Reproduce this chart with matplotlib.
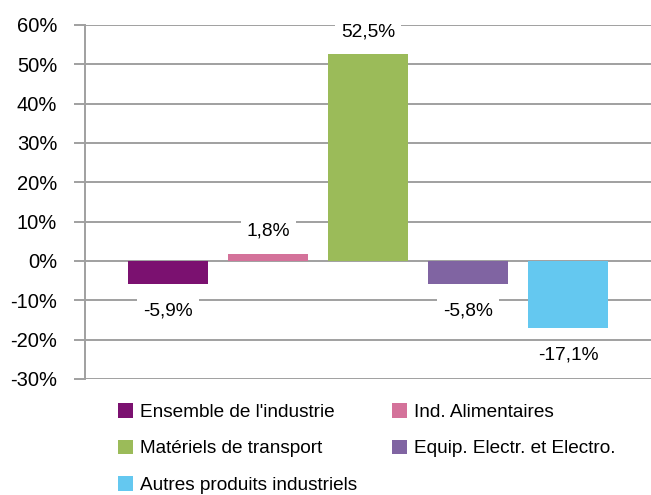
import matplotlib
matplotlib.use("Agg")
import matplotlib.pyplot as plt
from matplotlib.ticker import FuncFormatter

plt.rcParams['font.family'] = ['Liberation Sans', 'DejaVu Sans']

# donnees
categories = ["Ensemble de l'industrie", "Ind. Alimentaires", "Matériels de transport",
              "Equip. Electr. et Electro.", "Autres produits industriels"]
values = [-5.9, 1.8, 52.5, -5.8, -17.1]
labels = ["-5,9%", "1,8%", "52,5%", "-5,8%", "-17,1%"]
colors = ["#7B1170", "#D4729A", "#9BBB59", "#8064A2", "#64C8F0"]
yticks = [-30, -20, -10, 0, 10, 20, 30, 40, 50, 60]

fig = plt.figure(figsize=(6.51, 4.95), dpi=100)
ax = fig.add_axes([85/651, 116/495, 1 - 85/651, (379 - 25)/495])

grid_color = "#A0A0A0"
for t in yticks:
    ax.axhline(t, color=grid_color, lw=1.4, zorder=1)

bars = []
for i, v in enumerate(values):
    b = ax.bar(i, v, width=0.8, color=colors[i], zorder=2, label=categories[i])
    bars.append(b)
    if v >= 0:
        off = 16.5
    else:
        off = -19.5
    ax.annotate(labels[i], xy=(i, v), xytext=(0, off), textcoords="offset points",
                ha="center", va="center", fontsize=13.8, zorder=4,
                bbox=dict(boxstyle="square,pad=0.3", fc="white", ec="none"))

ax.set_xlim(-0.83, 4.83)
ax.set_ylim(-30, 60)
ax.set_yticks(yticks)
ax.yaxis.set_major_formatter(FuncFormatter(lambda v, p: "%d%%" % v))
ax.set_xticks([])
for s in ["top", "right", "bottom"]:
    ax.spines[s].set_visible(False)
ax.spines["left"].set_color(grid_color)
ax.spines["left"].set_linewidth(1.4)
ax.tick_params(axis="y", length=8, width=1.4, color=grid_color, labelsize=14.5, pad=12)

# legende par lignes
order = [0, 2, 4, 1, 3]
handles = [bars[i] for i in order]
names = [categories[i] for i in order]
leg = fig.legend(handles, names, loc="upper left", bbox_to_anchor=(118/651, 1 - 403/495),
                 ncol=2, frameon=False, fontsize=13.7, handlelength=0.8, handleheight=0.8,
                 handletextpad=0.35, labelspacing=0.98, columnspacing=1.85, borderpad=0,
                 borderaxespad=0)

fig.savefig("out.png", dpi=100)
